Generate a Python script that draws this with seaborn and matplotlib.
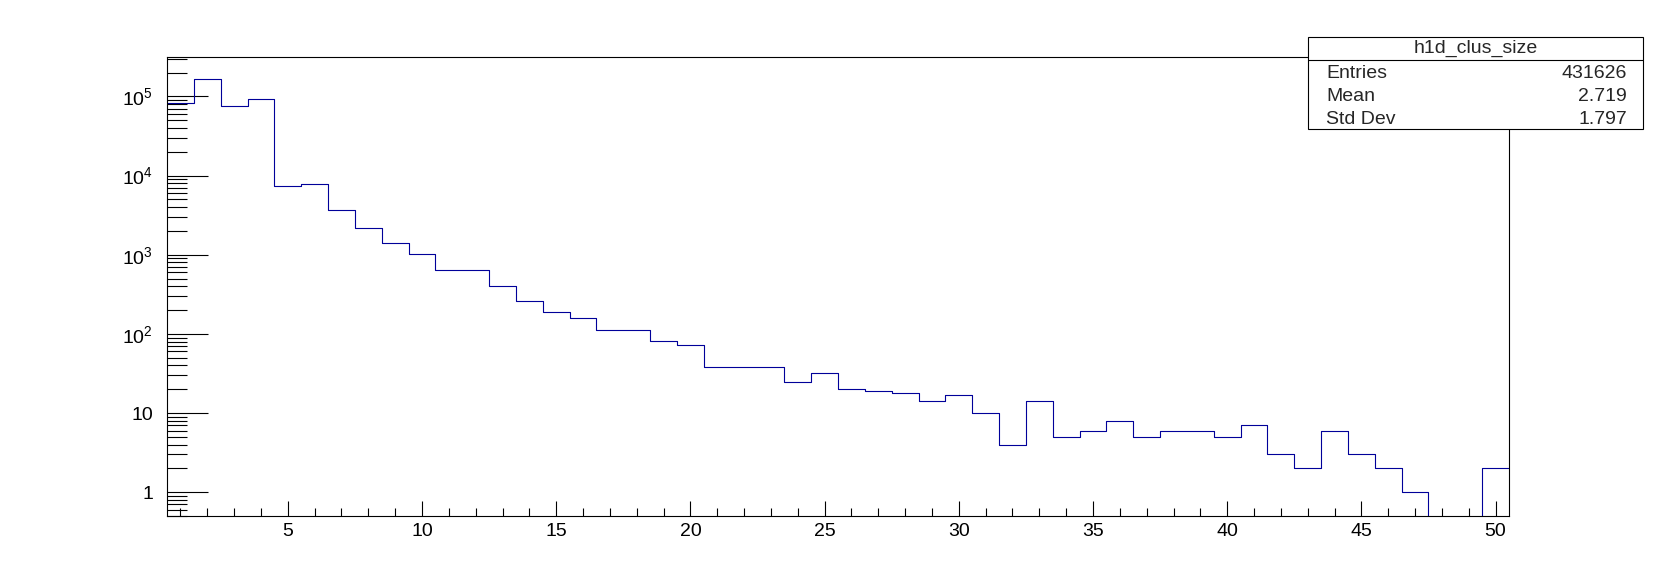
import numpy as np
import pandas as pd
import matplotlib
matplotlib.use("Agg")
import matplotlib.pyplot as plt
import seaborn as sns
from matplotlib.patches import Rectangle
from matplotlib.lines import Line2D
from matplotlib.ticker import MultipleLocator, LogLocator, NullFormatter

# histogram contents (one bin per cluster size)
cluster_size = list(range(1, 51))
entries = [82600, 166000, 75500, 92700, 7430, 7800, 3660, 2170, 1410, 1016,
           644, 644, 404, 261, 189, 159, 112, 112, 81, 73,
           38, 38, 38, 25, 32, 20, 19, 18, 14, 17,
           10, 4, 14, 5, 6, 8, 5, 6, 6, 5,
           7, 3, 2, 6, 3, 2, 1, 0, 0, 2]

# stats box
hist_name = "h1d_clus_size"
stat_names = ["Entries", "Mean", "Std Dev"]
stat_values = ["431626", "2.719", "1.797"]

# axis ticks
x_major_ticks = [5, 10, 15, 20, 25, 30, 35, 40, 45, 50]
y_tick_values = [1, 10, 1e2, 1e3, 1e4, 1e5]
y_tick_labels = ["1", "10", r"$\mathregular{10^{2}}$", r"$\mathregular{10^{3}}$",
                 r"$\mathregular{10^{4}}$", r"$\mathregular{10^{5}}$"]

sns.set_style("white")
plt.rcParams["font.family"] = ["Liberation Sans", "DejaVu Sans"]
plt.rcParams["mathtext.fontset"] = "custom"
plt.rcParams["mathtext.rm"] = "Liberation Sans"
plt.rcParams["mathtext.it"] = "Liberation Sans:italic"

W, H = 1678, 574
fig = plt.figure(figsize=(W / 100, H / 100), dpi=100)
ax = fig.add_axes([167 / W, 1 - 516 / H, (1509 - 167) / W, (516 - 57) / H])

df = pd.DataFrame({"size": cluster_size, "count": entries})
ax.set_yscale("log")
sns.histplot(data=df, x="size", weights="count", binwidth=1, binrange=(0.5, 50.5),
             element="step", fill=False, color="#000099", linewidth=0.8, ax=ax)

ax.set_xlim(0.5, 50.5)
ax.set_ylim(0.5, 3.15e5)
ax.set_xlabel("")
ax.set_ylabel("")

for s in ax.spines.values():
    s.set_visible(True)
    s.set_color("black")
    s.set_linewidth(0.8)

ax.set_xticks(x_major_ticks)
ax.xaxis.set_minor_locator(MultipleLocator(1))
ax.set_yticks(y_tick_values, labels=y_tick_labels)
ax.yaxis.set_minor_locator(LogLocator(base=10, subs=np.arange(2, 10)))
ax.yaxis.set_minor_formatter(NullFormatter())

ax.tick_params(axis="both", which="both", direction="in", color="black", width=0.8,
               left=True, bottom=True, top=False, right=False,
               labelsize=14, labelcolor="black")
ax.tick_params(axis="y", which="major", length=29.5, pad=10)
ax.tick_params(axis="y", which="minor", length=14.4)
ax.tick_params(axis="x", which="major", length=10.5, pad=5)
ax.tick_params(axis="x", which="minor", length=5.8)

# ROOT-like stats box, in pixel coordinates of the figure
def fx(px):
    return px / W

def fy(py):
    return 1 - py / H

x0, x1, y0, y1, ysep = 1308, 1643, 37, 129, 60
fig.patches.append(Rectangle((fx(x0), fy(y1)), fx(x1) - fx(x0), fy(y0) - fy(y1),
                             transform=fig.transFigure, facecolor="white",
                             edgecolor="black", linewidth=0.8, zorder=5))
fig.lines.append(Line2D([fx(x0), fx(x1)], [fy(ysep), fy(ysep)],
                        transform=fig.transFigure, color="black", linewidth=0.8, zorder=6))
fig.text(fx((x0 + x1) / 2), fy(48.5), hist_name, ha="center", va="center",
         fontsize=14, zorder=7)
for i, (name, val) in enumerate(zip(stat_names, stat_values)):
    yy = fy(73 + i * 23.2)
    fig.text(fx(1326), yy, name, ha="left", va="center", fontsize=14, zorder=7)
    fig.text(fx(1627), yy, val, ha="right", va="center", fontsize=14, zorder=7)

fig.savefig("out.png", dpi=100, facecolor="white")
